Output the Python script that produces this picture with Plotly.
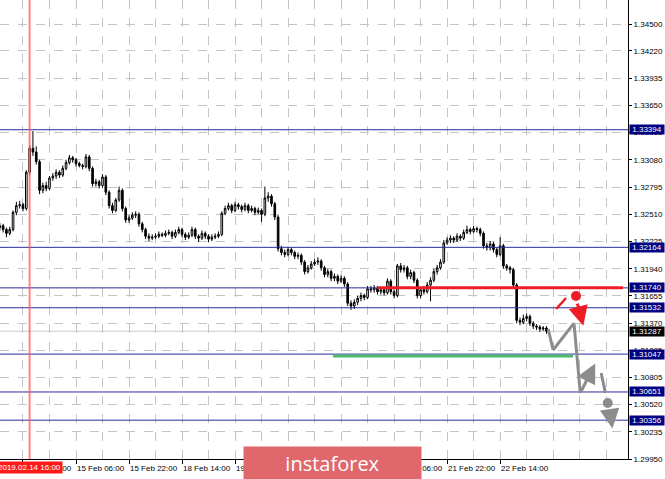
import plotly.graph_objects as go

# ---------------- data ----------------
# bar index (hours of trading time, 0 = 14 Feb 14:00, weekends skipped)
bar_start = -7
first_open = 1.3237
closes = [
    1.3239, 1.3235, 1.3231, 1.3235, 1.3253, 1.3260, 1.3261,
    1.3257, 1.3295, 1.3320, 1.3316, 1.3306, 1.3276, 1.3281, 1.3278, 1.3289, 1.3291,
    1.3295, 1.3292, 1.3299, 1.3305, 1.3310, 1.3308, 1.3304, 1.3302, 1.3301, 1.3311,
    1.3299, 1.3283, 1.3285, 1.3281, 1.3290, 1.3274, 1.3260, 1.3255, 1.3266, 1.3276,
    1.3257, 1.3245, 1.3247, 1.3250, 1.3251, 1.3241, 1.3235, 1.3228, 1.3226, 1.3227,
    1.3228, 1.3230, 1.3229, 1.3231, 1.3232, 1.3228, 1.3232, 1.3235, 1.3230, 1.3227,
    1.3229, 1.3235, 1.3228, 1.3226, 1.3231, 1.3228, 1.3225, 1.3227, 1.3228, 1.3230,
    1.3252, 1.3257, 1.3260, 1.3255, 1.3261, 1.3259, 1.3256, 1.3260, 1.3255, 1.3257,
    1.3253, 1.3255, 1.3251, 1.3268, 1.3270, 1.3262, 1.3248, 1.3215, 1.3211, 1.3209,
    1.3214, 1.3211, 1.3207, 1.3208, 1.3201, 1.3191, 1.3195, 1.3199, 1.3201, 1.3202,
    1.3195, 1.3188, 1.3191, 1.3184, 1.3186, 1.3181, 1.3184, 1.3178, 1.3158, 1.3155,
    1.3159, 1.3163, 1.3166, 1.3164, 1.3173, 1.3172, 1.3174, 1.3170, 1.3172, 1.3169,
    1.3181, 1.3170, 1.3166, 1.3197, 1.3193, 1.3195, 1.3186, 1.3190, 1.3182, 1.3166,
    1.3172, 1.3170, 1.3177, 1.3182, 1.3191, 1.3195, 1.3201, 1.3221, 1.3224, 1.3226,
    1.3224, 1.3228, 1.3226, 1.3232, 1.3235, 1.3233, 1.3236, 1.3235, 1.3231, 1.3218,
    1.3216, 1.3220, 1.3214, 1.3209, 1.3218, 1.3197, 1.3195, 1.3193, 1.3177, 1.3140,
    1.3138, 1.3142, 1.3144, 1.3137, 1.3134, 1.3133, 1.3131, 1.3132, 1.31287,
]
highs = [
    1.3242, 1.3241, 1.3237, 1.3238, 1.3255, 1.3264, 1.3265,
    1.3263, 1.3297, 1.3323, 1.3338, 1.3322, 1.3308, 1.3284, 1.3285, 1.3291, 1.3294,
    1.3298, 1.3297, 1.3302, 1.3308, 1.3313, 1.3312, 1.3310, 1.3306, 1.3304, 1.3314,
    1.3313, 1.3301, 1.3288, 1.3287, 1.3293, 1.3292, 1.3276, 1.3263, 1.3268, 1.3280,
    1.3278, 1.3259, 1.3250, 1.3253, 1.3254, 1.3253, 1.3243, 1.3237, 1.3231, 1.3230,
    1.3231, 1.3233, 1.3232, 1.3234, 1.3235, 1.3234, 1.3235, 1.3238, 1.3237, 1.3232,
    1.3232, 1.3238, 1.3237, 1.3230, 1.3234, 1.3233, 1.3230, 1.3230, 1.3231, 1.3233,
    1.3254, 1.3260, 1.3263, 1.3262, 1.3264, 1.3263, 1.3261, 1.3263, 1.3262, 1.3260,
    1.3259, 1.3258, 1.3257, 1.3280, 1.3274, 1.3272, 1.3264, 1.3250, 1.3218, 1.3214,
    1.3217, 1.3216, 1.3213, 1.3211, 1.3210, 1.3203, 1.3198, 1.3202, 1.3204, 1.3206,
    1.3204, 1.3197, 1.3194, 1.3193, 1.3189, 1.3188, 1.3187, 1.3186, 1.3180, 1.3161,
    1.3162, 1.3166, 1.3169, 1.3168, 1.3176, 1.3176, 1.3177, 1.3176, 1.3175, 1.3174,
    1.3184, 1.3183, 1.3172, 1.3199, 1.3200, 1.3198, 1.3197, 1.3193, 1.3192, 1.3184,
    1.3175, 1.3176, 1.3180, 1.3185, 1.3194, 1.3198, 1.3204, 1.3224, 1.3227, 1.3229,
    1.3228, 1.3231, 1.3230, 1.3235, 1.3239, 1.3237, 1.3239, 1.3238, 1.3237, 1.3233,
    1.3221, 1.3223, 1.3222, 1.3216, 1.3227, 1.3220, 1.3199, 1.3197, 1.3195, 1.3179,
    1.3143, 1.3146, 1.3147, 1.3146, 1.3139, 1.3136, 1.3135, 1.3134, 1.3134,
]
lows = [
    1.3234, 1.3232, 1.3227, 1.3229, 1.3233, 1.3250, 1.3257,
    1.3254, 1.3255, 1.3292, 1.3312, 1.3303, 1.3272, 1.3273, 1.3275, 1.3276, 1.3286,
    1.3288, 1.3289, 1.3290, 1.3297, 1.3303, 1.3305, 1.3301, 1.3300, 1.3298, 1.3299,
    1.3296, 1.3280, 1.3280, 1.3278, 1.3279, 1.3271, 1.3257, 1.3252, 1.3253, 1.3264,
    1.3254, 1.3242, 1.3242, 1.3245, 1.3247, 1.3238, 1.3232, 1.3225, 1.3223, 1.3224,
    1.3225, 1.3226, 1.3227, 1.3227, 1.3229, 1.3225, 1.3226, 1.3230, 1.3227, 1.3224,
    1.3225, 1.3227, 1.3225, 1.3222, 1.3224, 1.3225, 1.3222, 1.3223, 1.3225, 1.3226,
    1.3228, 1.3250, 1.3255, 1.3252, 1.3253, 1.3256, 1.3253, 1.3254, 1.3252, 1.3253,
    1.3250, 1.3251, 1.3243, 1.3249, 1.3264, 1.3259, 1.3245, 1.3212, 1.3208, 1.3206,
    1.3207, 1.3208, 1.3204, 1.3204, 1.3198, 1.3188, 1.3189, 1.3193, 1.3197, 1.3198,
    1.3192, 1.3185, 1.3185, 1.3181, 1.3181, 1.3178, 1.3179, 1.3175, 1.3155, 1.3151,
    1.3152, 1.3156, 1.3160, 1.3161, 1.3162, 1.3169, 1.3169, 1.3167, 1.3167, 1.3166,
    1.3167, 1.3167, 1.3163, 1.3164, 1.3190, 1.3190, 1.3183, 1.3183, 1.3179, 1.3163,
    1.3163, 1.3167, 1.3168, 1.3160, 1.3180, 1.3188, 1.3193, 1.3199, 1.3219, 1.3221,
    1.3221, 1.3222, 1.3223, 1.3224, 1.3230, 1.3230, 1.3231, 1.3232, 1.3228, 1.3215,
    1.3213, 1.3213, 1.3211, 1.3206, 1.3207, 1.3194, 1.3192, 1.3189, 1.3174, 1.3137,
    1.3135, 1.3136, 1.3139, 1.3134, 1.3131, 1.3130, 1.3128, 1.3129, 1.3126,
]
bars = list(range(bar_start, bar_start + len(closes)))
opens = [first_open] + closes[:-1]

# price axis ticks
y_ticks = [1.34500, 1.34220, 1.33935, 1.33650, 1.33365, 1.33080, 1.32795, 1.32510,
           1.32225, 1.31940, 1.31655, 1.31370, 1.31085, 1.30805, 1.30520, 1.30235, 1.29950]
y_tick_text = ["1.34500", "1.34220", "1.33935", "1.33650", "1.33365", "1.33080", "1.32795",
               "1.32510", "1.32225", "1.31940", "1.31655", "1.31370", "1.31085", "1.30805",
               "1.30520", "1.30235", "1.29950"]

# time axis labels
x_label_bars = [0, 16, 32, 48, 64, 80, 96, 112, 128, 144]
x_label_text = ["14 Feb 14:00", "15 Feb 06:00", "15 Feb 22:00", "18 Feb 14:00", "19 Feb 06:00",
                "19 Feb 22:00", "20 Feb 14:00", "21 Feb 06:00", "21 Feb 22:00", "22 Feb 14:00"]
x_grid_bars = list(range(0, 184, 8))

# horizontal levels
blue_levels = [1.33394, 1.32164, 1.31740, 1.31532, 1.31047, 1.30651, 1.30356]
current_price = 1.31287
red_level = 1.31740
red_level_span = [106.9, 181.1]
green_level = 1.31027
green_level_span = [93.6, 166.0]
marker_bar = 2
marker_text = "2019.02.14 16:00"
watermark_text = "instaforex"

# forecast drawings (bar, price)
red_tick_x = [160.9, 163.9]
red_tick_y = [1.31519, 1.31634]
red_dot = (166.9, 1.31655)
red_arrow = [(167.2, 1.31592), (169.1, 1.31345)]
gray_zig_x = [158.5, 160.0, 166.3, 168.2]
gray_zig_y = [1.31310, 1.31090, 1.31372, 1.30640]
gray_up_arrow = [(168.2, 1.30640), (172.7, 1.30950)]
gray_tick_x = [174.5, 175.8]
gray_tick_y = [1.30849, 1.30640]
gray_dot = (176.5, 1.30536)
gray_arrow = [(177.0, 1.30480), (177.9, 1.30270)]

# ---------------- figure ----------------
BLUE = "#2b2b9e"
NAVY = "#000080"
GRID = "#c4c4c4"
FONT = "Liberation Sans"

fig = go.Figure()
fig.add_trace(go.Candlestick(
    x=bars, open=opens, high=highs, low=lows, close=closes,
    increasing=dict(line=dict(color="black", width=1), fillcolor="white"),
    decreasing=dict(line=dict(color="black", width=1), fillcolor="black"),
    whiskerwidth=0, showlegend=False, hoverinfo="skip",
))

shapes = []
for lv in blue_levels:
    shapes.append(dict(type="line", xref="paper", x0=0, x1=1, yref="y", y0=lv, y1=lv,
                       line=dict(color=BLUE, width=1), layer="above"))
shapes.append(dict(type="line", xref="paper", x0=0, x1=1, yref="y", y0=current_price,
                   y1=current_price, line=dict(color="#c8c8c8", width=1), layer="below"))
shapes.append(dict(type="line", xref="x", x0=marker_bar, x1=marker_bar, yref="paper", y0=0, y1=1,
                   line=dict(color="rgba(255,90,90,0.75)", width=2), layer="above"))
shapes.append(dict(type="line", xref="x", x0=red_level_span[0], x1=red_level_span[1], yref="y",
                   y0=red_level, y1=red_level, line=dict(color="#ee1c25", width=3), layer="above"))
shapes.append(dict(type="line", xref="x", x0=green_level_span[0], x1=green_level_span[1], yref="y",
                   y0=green_level, y1=green_level, line=dict(color="#4cb86e", width=3), layer="above"))
shapes.append(dict(type="line", xref="x", yref="y", x0=red_tick_x[0], x1=red_tick_x[1],
                   y0=red_tick_y[0], y1=red_tick_y[1], line=dict(color="#ee1c25", width=2.5)))
shapes.append(dict(type="circle", xref="x", yref="y", xsizemode="pixel", ysizemode="pixel",
                   xanchor=red_dot[0], yanchor=red_dot[1], x0=-5, x1=5, y0=-5, y1=5,
                   fillcolor="#ee1c25", line=dict(width=0)))
for i in range(len(gray_zig_x) - 1):
    shapes.append(dict(type="line", xref="x", yref="y", x0=gray_zig_x[i], x1=gray_zig_x[i + 1],
                       y0=gray_zig_y[i], y1=gray_zig_y[i + 1], line=dict(color="#8c8c8c", width=3)))
shapes.append(dict(type="line", xref="x", yref="y", x0=gray_tick_x[0], x1=gray_tick_x[1],
                   y0=gray_tick_y[0], y1=gray_tick_y[1], line=dict(color="#8c8c8c", width=3)))
shapes.append(dict(type="circle", xref="x", yref="y", xsizemode="pixel", ysizemode="pixel",
                   xanchor=gray_dot[0], yanchor=gray_dot[1], x0=-5, x1=5, y0=-5, y1=5,
                   fillcolor="#8c8c8c", line=dict(width=0)))

annotations = []
for (tail, head, col) in [(red_arrow[0], red_arrow[1], "#ee1c25"),
                          (gray_up_arrow[0], gray_up_arrow[1], "#8c8c8c"),
                          (gray_arrow[0], gray_arrow[1], "#8c8c8c")]:
    annotations.append(dict(x=head[0], y=head[1], ax=tail[0], ay=tail[1], xref="x", yref="y",
                            axref="x", ayref="y", text="", showarrow=True, arrowhead=2,
                            arrowsize=1.3, arrowwidth=3, arrowcolor=col))

for b, t in zip(x_label_bars, x_label_text):
    annotations.append(dict(x=b, y=0, xref="x", yref="paper", xanchor="left", yanchor="top",
                            text=t, showarrow=False, xshift=-1, yshift=-3,
                            font=dict(family=FONT, size=8, color="black")))

for lv in blue_levels:
    annotations.append(dict(x=1, y=lv, xref="paper", yref="y", xanchor="left", yanchor="middle",
                            text=f"{lv:.5f}", showarrow=False, xshift=1, bgcolor=NAVY,
                            borderpad=0, width=34, height=9,
                            font=dict(family=FONT, size=8, color="white")))
annotations.append(dict(x=1, y=current_price, xref="paper", yref="y", xanchor="left",
                        yanchor="middle", text=f"{current_price:.5f}", showarrow=False, xshift=1,
                        bgcolor="black", borderpad=0, width=34, height=9,
                        font=dict(family=FONT, size=8, color="white")))

annotations.append(dict(x=marker_bar, y=0, xref="x", yref="paper", xanchor="center", yanchor="top",
                        text=marker_text, showarrow=False, yshift=-2, bgcolor="#ff1a1a",
                        borderpad=1, font=dict(family=FONT, size=8, color="white")))

annotations.append(dict(x=0.5295, y=-0.0105, xref="paper", yref="paper", xanchor="center",
                        yanchor="middle", text=watermark_text, showarrow=False,
                        bgcolor="#e0676c", width=175, height=31,
                        font=dict(family="Open Sans", size=20, color="white")))

fig.update_layout(
    width=665, height=479,
    margin=dict(l=0, r=37, t=0, b=20),
    paper_bgcolor="white", plot_bgcolor="white",
    shapes=shapes, annotations=annotations,
    showlegend=False,
    font=dict(family=FONT, size=8, color="black"),
    xaxis=dict(
        range=[-6.94, 182.6], rangeslider=dict(visible=False),
        tickmode="array", tickvals=x_label_bars, ticktext=[""] * len(x_label_bars),
        ticks="outside", ticklen=4, tickcolor="black", showgrid=False,
        showline=True, linecolor="black", linewidth=1, zeroline=False,
        minor=dict(tickmode="array", tickvals=x_grid_bars, showgrid=True, gridcolor=GRID,
                   griddash="dash", ticks=""),
        fixedrange=True,
    ),
    yaxis=dict(
        side="right", range=[1.29950, 1.34751],
        tickmode="array", tickvals=y_ticks, ticktext=y_tick_text,
        ticks="outside", ticklen=3, tickcolor="black",
        showgrid=True, gridcolor=GRID, griddash="dash",
        showline=True, linecolor="black", linewidth=1, zeroline=False,
        tickfont=dict(family=FONT, size=8, color="black"),
    ),
)

fig.write_html("out.html", config={"displayModeBar": False},
               post_script="document.body.style.margin='0px';document.body.style.overflow='hidden';")
